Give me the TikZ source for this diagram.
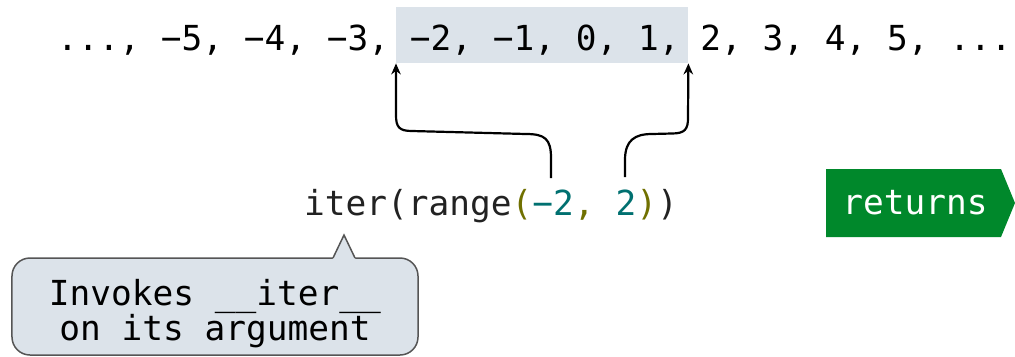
\documentclass[tikz,border=0pt]{standalone}
\usepackage{fontspec}
\newfontfamily\codefont{DejaVu Sans Mono}
\usetikzlibrary{arrows.meta}
\definecolor{hlfill}{HTML}{DCE3EA}
\definecolor{bubedge}{HTML}{555555}
\definecolor{codedark}{HTML}{222222}
\definecolor{argolive}{HTML}{707000}
\definecolor{argteal}{HTML}{007070}
\definecolor{retgreen}{HTML}{00882B}
\frenchspacing
\tikzset{
  txt/.style={inner sep=0pt, anchor=base},
  conn/.style={line width=2.2bp, -{Stealth[length=11bp,width=9.5bp]}},
  bubble/.style={draw=bubedge, fill=hlfill, line width=1.5bp, rounded corners=18bp, inner sep=0pt},
}
\begin{document}
\begin{tikzpicture}[x=1bp, y=-1bp, font=\codefont\fontsize{34.6}{36}\selectfont]
\useasboundingbox (0,0) rectangle (1015,356);

% highlighted window of the integer sequence
\node[fill=hlfill, minimum width=292bp, minimum height=56bp, inner sep=0pt, anchor=north west] (win) at (396,7) {};
\node[txt] (seq) at (534.5,50) {..., −5, −4, −3, −2, −1, 0, 1, 2, 3, 4, 5, ...};

% the call expression
\node[txt, anchor=base west, text=codedark] (call) at (304,215)
  {iter(range{\color{argolive}(}{\color{argteal}−2}{\color{argolive},} {\color{argteal}2}{\color{argolive})})};

\coordinate (lo) at (551,178);
\coordinate (hi) at (625,177);

% arguments point at the ends of the window
\draw[conn] (lo) -- (551,158) .. controls (551,139) and (545,134) .. (526,134)
  -- (412,131) .. controls (399,131) and (396,127) .. (396,115) -- (win.south west);
\draw[conn] (hi) -- (625,160) .. controls (625,140) and (635,134) .. (652,134)
  -- (672,133.5) .. controls (685,133.5) and (688,129) .. (688,118) -- (win.south east);

% speech bubble
\node[bubble, minimum width=406bp, minimum height=97bp] (bub) at (215,306.5) {};
\fill[hlfill] (332.5,259.3) -- (344,235) -- (355.5,259.3) -- cycle;
\draw[bubedge, line width=1.5bp, line join=miter] (333,258) -- (344,235) -- (355,258);
\node[txt] (l1) at (215,305) {Invokes \_\_iter\_\_};
\node[txt] (l2) at (215,340) {on its argument};

% returns tag
\fill[retgreen] (826,169) -- (1001,169) -- (1015,203) -- (1001,237) -- (826,237) -- cycle;
\node[txt, text=white] (ret) at (915,214) {returns};
\end{tikzpicture}
\end{document}
